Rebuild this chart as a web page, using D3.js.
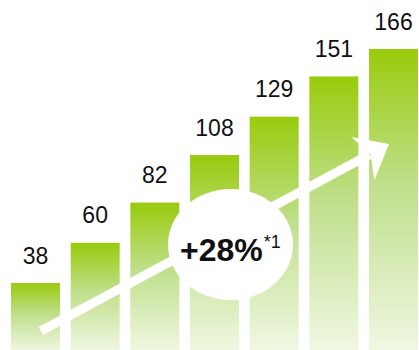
<!DOCTYPE html>
<html>
<head>
<meta charset="utf-8">
<script src="https://cdn.jsdelivr.net/npm/d3@7"></script>
<style>
  html, body { margin: 0; padding: 0; background: #fff; }
  svg { display: block; }
</style>
</head>
<body>
<div id="chart"></div>
<script>
// Yearly figures shown as gradient bars
const categories = ["1", "2", "3", "4", "5", "6", "7"];
const values = [38, 60, 82, 108, 129, 151, 166];
const growthLabel = "+28%";
const growthNote = "*1";

const W = 419, H = 350;

const svg = d3.select("#chart").append("svg")
  .attr("width", W).attr("height", H);

const defs = svg.append("defs");
const grad = defs.append("linearGradient")
  .attr("id", "barFill")
  .attr("x1", 0).attr("y1", 0).attr("x2", 0).attr("y2", 1);
grad.append("stop").attr("offset", "0%").attr("stop-color", "#99cb0c");
grad.append("stop").attr("offset", "45%").attr("stop-color", "#c0df8c");
grad.append("stop").attr("offset", "100%").attr("stop-color", "#f1f8e4");

const x = d3.scaleBand()
  .domain(categories)
  .range([11, 418])
  .paddingInner(0.179)
  .paddingOuter(0);

const y = d3.scaleLinear()
  .domain([0, 166])
  .range([352.5, 49]);

const data = categories.map((c, i) => ({ c, v: values[i] }));

// Bars
svg.append("g").selectAll("rect")
  .data(data)
  .join("rect")
  .attr("x", d => x(d.c))
  .attr("y", d => y(d.v))
  .attr("width", x.bandwidth())
  .attr("height", d => y(0) - y(d.v))
  .attr("fill", "url(#barFill)");

// Value labels above each bar
svg.append("g").selectAll("text")
  .data(data)
  .join("text")
  .attr("x", d => x(d.c) + x.bandwidth() / 2)
  .attr("y", d => y(d.v) - 19.5)
  .attr("text-anchor", "middle")
  .attr("font-family", "Liberation Sans, Arial, sans-serif")
  .attr("font-size", 23)
  .attr("fill", "#111")
  .text(d => d.v);

// Growth arrow across the bars
const start = [41, 331], tip = [389, 144];
const dx = tip[0] - start[0], dy = tip[1] - start[1];
const len = Math.hypot(dx, dy);
const u = [dx / len, dy / len];
const n = [-u[1], u[0]];
const pt = (a, b) => [tip[0] + u[0] * a + n[0] * b, tip[1] + u[1] * a + n[1] * b];
const shaftEnd = pt(-22, 0);

svg.append("line")
  .attr("x1", start[0]).attr("y1", start[1])
  .attr("x2", shaftEnd[0]).attr("y2", shaftEnd[1])
  .attr("stroke", "#fff")
  .attr("stroke-width", 9);

const head = [tip, pt(-30, -24), pt(-21, 0), pt(-30, 25)];
svg.append("path")
  .attr("d", d3.line()(head) + "Z")
  .attr("fill", "#fff");

// Growth badge
svg.append("ellipse")
  .attr("cx", 230.5).attr("cy", 244.5)
  .attr("rx", 62.5).attr("ry", 55.5)
  .attr("fill", "#fff");

const badge = svg.append("text")
  .attr("x", 180).attr("y", 261)
  .attr("font-family", "Liberation Sans, Arial, sans-serif")
  .attr("fill", "#111");
badge.append("tspan")
  .attr("font-size", 32)
  .attr("font-weight", "bold")
  .text(growthLabel);
badge.append("tspan")
  .attr("font-size", 18)
  .attr("dx", 1)
  .attr("dy", -13)
  .text(growthNote);
</script>
</body>
</html>
